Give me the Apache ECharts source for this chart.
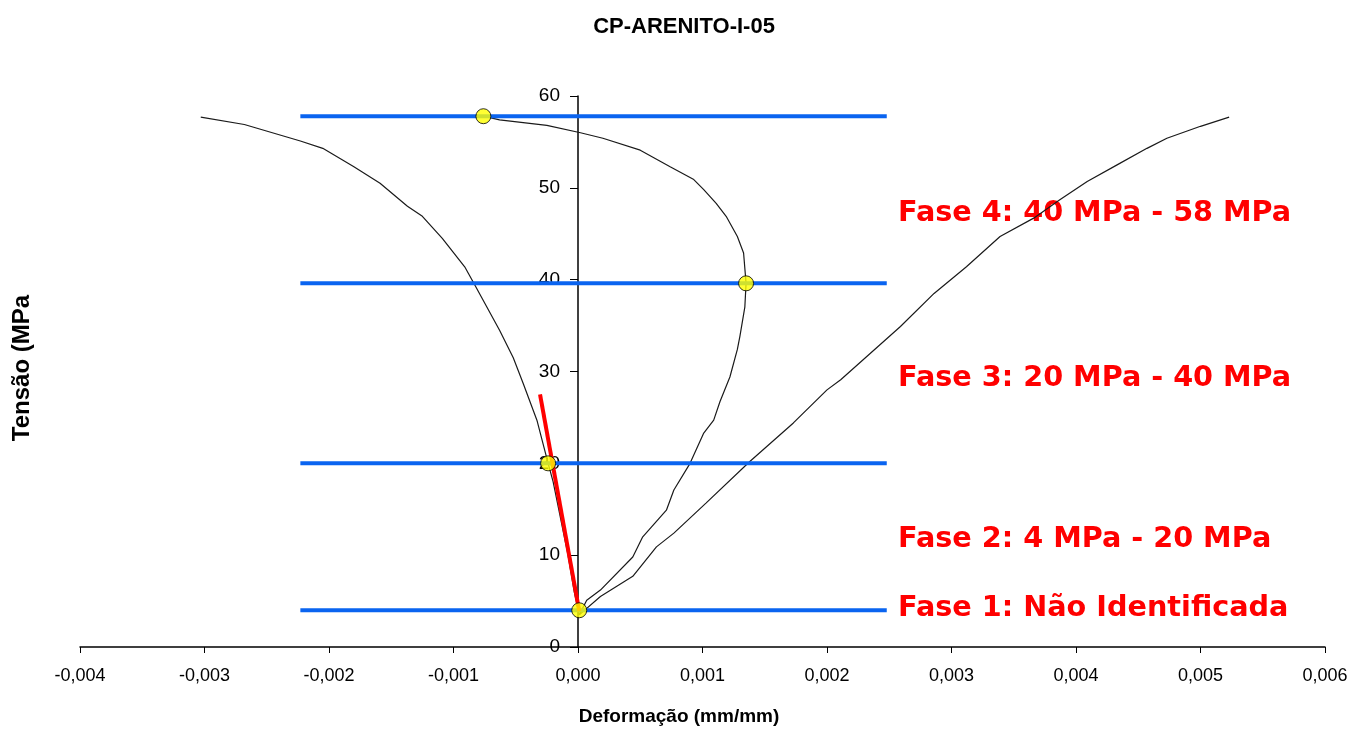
<!DOCTYPE html>
<html>
<head>
<meta charset="utf-8">
<script src="https://cdn.jsdelivr.net/npm/echarts@6/dist/echarts.min.js"></script>
<style>
  html, body { margin: 0; padding: 0; background: #fff; }
  #chart { width: 1368px; height: 731px; }
</style>
</head>
<body>
<div id="chart"></div>
<script>
// curvas: [deformacao, tensao]
var lateral = [
  [0.00001, 3.5], [-0.00003, 6], [-0.00008, 10], [-0.00014, 14], [-0.0002, 18],
  [-0.00024, 20], [-0.00033, 24.7], [-0.00044, 28.7], [-0.00052, 31.5], [-0.00063, 34.5],
  [-0.00082, 39.2], [-0.00091, 41.4], [-0.00109, 44.5], [-0.00125, 46.9], [-0.00137, 48.0],
  [-0.00159, 50.5], [-0.0018, 52.3], [-0.00205, 54.3], [-0.00223, 55.1], [-0.00268, 56.9],
  [-0.00303, 57.7]
];
var volumetrica = [
  [0.00001, 3.5], [0.00007, 5.1], [0.00018, 6.2], [0.00044, 9.8], [0.00052, 12.0],
  [0.00071, 14.9], [0.00077, 17.1], [0.0009, 20.0], [0.00101, 23.3], [0.00109, 24.7],
  [0.00114, 26.7], [0.00122, 29.4], [0.00128, 32.4], [0.0013, 33.8], [0.00134, 37],
  [0.00135, 39.6], [0.00133, 42.9], [0.00128, 44.7], [0.00119, 46.9], [0.00111, 48.3],
  [0.00101, 49.8], [0.00093, 50.9], [0.00074, 52.3], [0.0005, 54.1], [0.0002, 55.4],
  [0.00002, 56.0], [-0.00025, 56.8], [-0.00063, 57.4], [-0.00076, 57.8]
];
var axial = [
  [0.00001, 3.5], [0.00018, 5.5], [0.00044, 7.7], [0.00063, 10.9], [0.00077, 12.4],
  [0.00103, 15.7], [0.00138, 20.2], [0.00173, 24.4], [0.002, 28.0], [0.00211, 29.1],
  [0.00259, 34.9], [0.00286, 38.5], [0.00312, 41.4], [0.00339, 44.7], [0.00366, 46.7],
  [0.00387, 48.7], [0.00409, 50.7], [0.00433, 52.5], [0.00457, 54.3], [0.00473, 55.4],
  [0.005, 56.7], [0.00523, 57.7]
];
var niveisFase = [4, 20, 39.6, 57.8];
var extensaoFase = [-0.00223, 0.00248];
var pontosFase = [[0.00001, 4], [-0.00024, 20], [0.00135, 39.6], [-0.00076, 57.8]];
var retaElastica = [[0.00001, 3.9], [-0.000305, 27.5]];
var textosFase = [
  ['Fase 4: 40 MPa - 58 MPa', 214],
  ['Fase 3: 20 MPa - 40 MPa', 379],
  ['Fase 2: 4 MPa - 20 MPa', 540],
  ['Fase 1: Não Identificada', 609]
];

var xMin = -0.004, xMax = 0.006;
var gridLeft = 80, gridRight = 43, largura = 1368;
// eixo Y cruza em x = 0: desloca o eixo para dentro do grid
var offsetY = -(0 - xMin) / (xMax - xMin) * (largura - gridLeft - gridRight);

var series = [];
[lateral, volumetrica, axial].forEach(function (c) {
  series.push({
    type: 'line',
    data: c,
    showSymbol: false,
    lineStyle: { color: '#1a1a1a', width: 1.2 },
    z: 2
  });
});
niveisFase.forEach(function (n) {
  series.push({
    type: 'line',
    data: [[extensaoFase[0], n], [extensaoFase[1], n]],
    showSymbol: false,
    lineStyle: { color: '#0a64f0', width: 4 },
    z: 3
  });
});
series.push({
  type: 'line',
  data: retaElastica,
  showSymbol: false,
  lineStyle: { color: '#ff0000', width: 4 },
  z: 4
});
series.push({
  type: 'scatter',
  data: pontosFase,
  symbolSize: 15,
  itemStyle: { color: '#ffff00', borderColor: '#000', borderWidth: 1 },
  z: 5
});

var graficos = textosFase.map(function (t) {
  return {
    type: 'text',
    x: 898,
    y: t[1],
    style: {
      text: t[0],
      fill: '#ff0000',
      font: 'bold 28.7px "DejaVu Sans"',
      textVerticalAlign: 'middle'
    }
  };
});
graficos.push({
  type: 'text',
  x: 679,
  y: 717,
  style: {
    text: 'Deformação (mm/mm)',
    fill: '#000',
    font: 'bold 19px "Liberation Sans"',
    textAlign: 'center',
    textVerticalAlign: 'middle'
  }
});
graficos.push({
  type: 'text',
  x: 22,
  y: 368,
  rotation: Math.PI / 2,
  style: {
    text: 'Tensão (MPa',
    fill: '#000',
    font: 'bold 24px "Liberation Sans"',
    textAlign: 'center',
    textVerticalAlign: 'middle'
  }
});

var option = {
  animation: false,
  title: {
    text: 'CP-ARENITO-I-05',
    left: 679,
    top: 11,
    textAlign: 'center',
    textStyle: { fontFamily: 'Liberation Sans', fontWeight: 'bold', fontSize: 22, color: '#000' }
  },
  grid: { left: gridLeft, right: gridRight, top: 96, bottom: 84 },
  xAxis: {
    type: 'value',
    min: xMin,
    max: xMax,
    interval: 0.001,
    splitLine: { show: false },
    axisLine: { onZero: false, lineStyle: { color: '#000', width: 1.5 } },
    axisTick: { length: 6, lineStyle: { color: '#000' } },
    axisLabel: {
      margin: 20,
      color: '#000',
      fontFamily: 'Liberation Sans',
      fontSize: 18,
      formatter: function (v) { return (Math.abs(v) < 1e-9 ? 0 : v).toFixed(3).replace('.', ','); }
    }
  },
  yAxis: {
    type: 'value',
    min: 0,
    max: 60,
    interval: 10,
    position: 'left',
    offset: offsetY,
    splitLine: { show: false },
    axisLine: { show: true, onZero: false, lineStyle: { color: '#000', width: 1.5 } },
    axisTick: { show: true, length: 8, lineStyle: { color: '#000' } },
    axisLabel: { margin: 18, color: '#000', fontFamily: 'Liberation Sans', fontSize: 19 }
  },
  graphic: graficos,
  series: series
};

var myChart = echarts.init(document.getElementById('chart'));
myChart.setOption(option);
</script>
</body>
</html>
